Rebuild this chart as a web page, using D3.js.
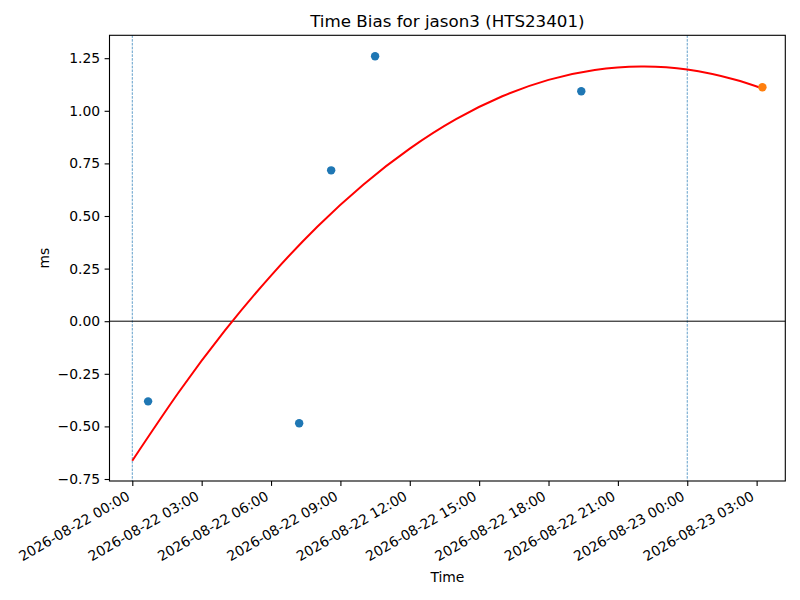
<!DOCTYPE html>
<html>
<head>
<meta charset="utf-8">
<script src="https://cdn.jsdelivr.net/npm/d3@7"></script>
<style>
  html, body { margin: 0; padding: 0; background: #fff; }
  svg { display: block; font-family: "DejaVu Sans", sans-serif; }
</style>
</head>
<body>
<svg id="chart" width="800" height="600"></svg>
<script>
// ---- data ----
const pointTimes = ["2026-08-22T00:41", "2026-08-22T07:13", "2026-08-22T08:36", "2026-08-22T10:30", "2026-08-22T19:25"];
const pointValues = [-0.381, -0.485, 0.717, 1.259, 1.093];
const latestTimes = ["2026-08-23T03:15"];
const latestValues = [1.112];
const fitTimes = ["2026-08-22T00:00", "2026-08-22T02:00", "2026-08-22T04:00", "2026-08-22T06:00", "2026-08-22T08:00",
                  "2026-08-22T10:00", "2026-08-22T12:00", "2026-08-22T14:00", "2026-08-22T16:00", "2026-08-22T18:00",
                  "2026-08-22T20:00", "2026-08-22T22:00", "2026-08-23T00:00", "2026-08-23T02:00", "2026-08-23T03:15"];
const fitValues = [-0.663, -0.339, -0.045, 0.217, 0.449, 0.650, 0.820, 0.960, 1.069, 1.147, 1.194, 1.210, 1.196, 1.150, 1.106];
const dayMarks = ["2026-08-22T00:00", "2026-08-23T00:00"];
const yTicks = [-0.75, -0.5, -0.25, 0, 0.25, 0.5, 0.75, 1.0, 1.25];
const titleText = "Time Bias for jason3 (HTS23401)";
const xLabel = "Time";
const yLabel = "ms";

// ---- layout ----
const parse = d3.utcParse("%Y-%m-%dT%H:%M");
const svg = d3.select("#chart");
const L = 109.5, R = 785.3, T = 35.3, B = 481;
const hour = 3600 * 1000;
const t0 = parse("2026-08-22T00:00");
const x = d3.scaleUtc()
  .domain([new Date(+t0 - 0.986 * hour), new Date(+t0 + 28.24 * hour)])
  .range([L, R]);
const y = d3.scaleLinear().domain([-0.7595, 1.3588]).range([B, T]);

const tickFont = 13.9;

// day marker lines
svg.append("g").selectAll("line").data(dayMarks).join("line")
  .attr("x1", d => x(parse(d))).attr("x2", d => x(parse(d)))
  .attr("y1", T).attr("y2", B)
  .attr("stroke", "#1f77b4").attr("stroke-width", 0.7)
  .attr("stroke-dasharray", "2.6,1.2");

// zero line
svg.append("line")
  .attr("x1", L).attr("x2", R).attr("y1", y(0)).attr("y2", y(0))
  .attr("stroke", "#000").attr("stroke-width", 1.0);

// fit curve
const fitData = fitTimes.map((t, i) => [parse(t), fitValues[i]]);
svg.append("path")
  .datum(fitData)
  .attr("fill", "none")
  .attr("stroke", "#ff0000")
  .attr("stroke-width", 2)
  .attr("d", d3.line().x(d => x(d[0])).y(d => y(d[1])).curve(d3.curveNatural));

// points
svg.append("g").selectAll("circle").data(pointTimes.map((t, i) => [parse(t), pointValues[i]])).join("circle")
  .attr("cx", d => x(d[0])).attr("cy", d => y(d[1])).attr("r", 4.2).attr("fill", "#1f77b4");
svg.append("g").selectAll("circle").data(latestTimes.map((t, i) => [parse(t), latestValues[i]])).join("circle")
  .attr("cx", d => x(d[0])).attr("cy", d => y(d[1])).attr("r", 4.2).attr("fill", "#ff7f0e");

// frame
svg.append("rect").attr("x", L).attr("y", T).attr("width", R - L).attr("height", B - T)
  .attr("fill", "none").attr("stroke", "#000").attr("stroke-width", 1.1);

// y axis
const yAxis = svg.append("g").attr("transform", `translate(${L},0)`)
  .call(d3.axisLeft(y).tickValues(yTicks).tickFormat(d3.format(".2f")).tickSize(4.9).tickPadding(4.5));
yAxis.select(".domain").remove();
yAxis.selectAll("line").attr("stroke-width", 1.1);
yAxis.selectAll("text").attr("font-size", tickFont).attr("font-family", "DejaVu Sans").attr("fill", "#000");

// x axis
const xAxis = svg.append("g").attr("transform", `translate(0,${B})`)
  .call(d3.axisBottom(x).ticks(d3.utcHour.every(3)).tickFormat(d3.utcFormat("%Y-%m-%d %H:%M")).tickSize(4.9).tickPadding(0));
xAxis.select(".domain").remove();
xAxis.selectAll("line").attr("stroke-width", 1.1);
xAxis.selectAll("text")
  .attr("font-size", tickFont).attr("font-family", "DejaVu Sans").attr("fill", "#000")
  .attr("text-anchor", "end")
  .attr("y", 0).attr("dy", 0)
  .attr("transform", "translate(-2,18) rotate(-30)");

// title and labels
svg.append("text").attr("x", (L + R) / 2).attr("y", 26.5).attr("text-anchor", "middle")
  .attr("font-size", 16.7).attr("fill", "#000").text(titleText);
svg.append("text").attr("x", (L + R) / 2).attr("y", 582).attr("text-anchor", "middle")
  .attr("font-size", tickFont).attr("fill", "#000").text(xLabel);
svg.append("text").attr("transform", `translate(48.5,${(T + B) / 2}) rotate(-90)`).attr("text-anchor", "middle")
  .attr("font-size", tickFont).attr("fill", "#000").text(yLabel);
</script>
</body>
</html>
